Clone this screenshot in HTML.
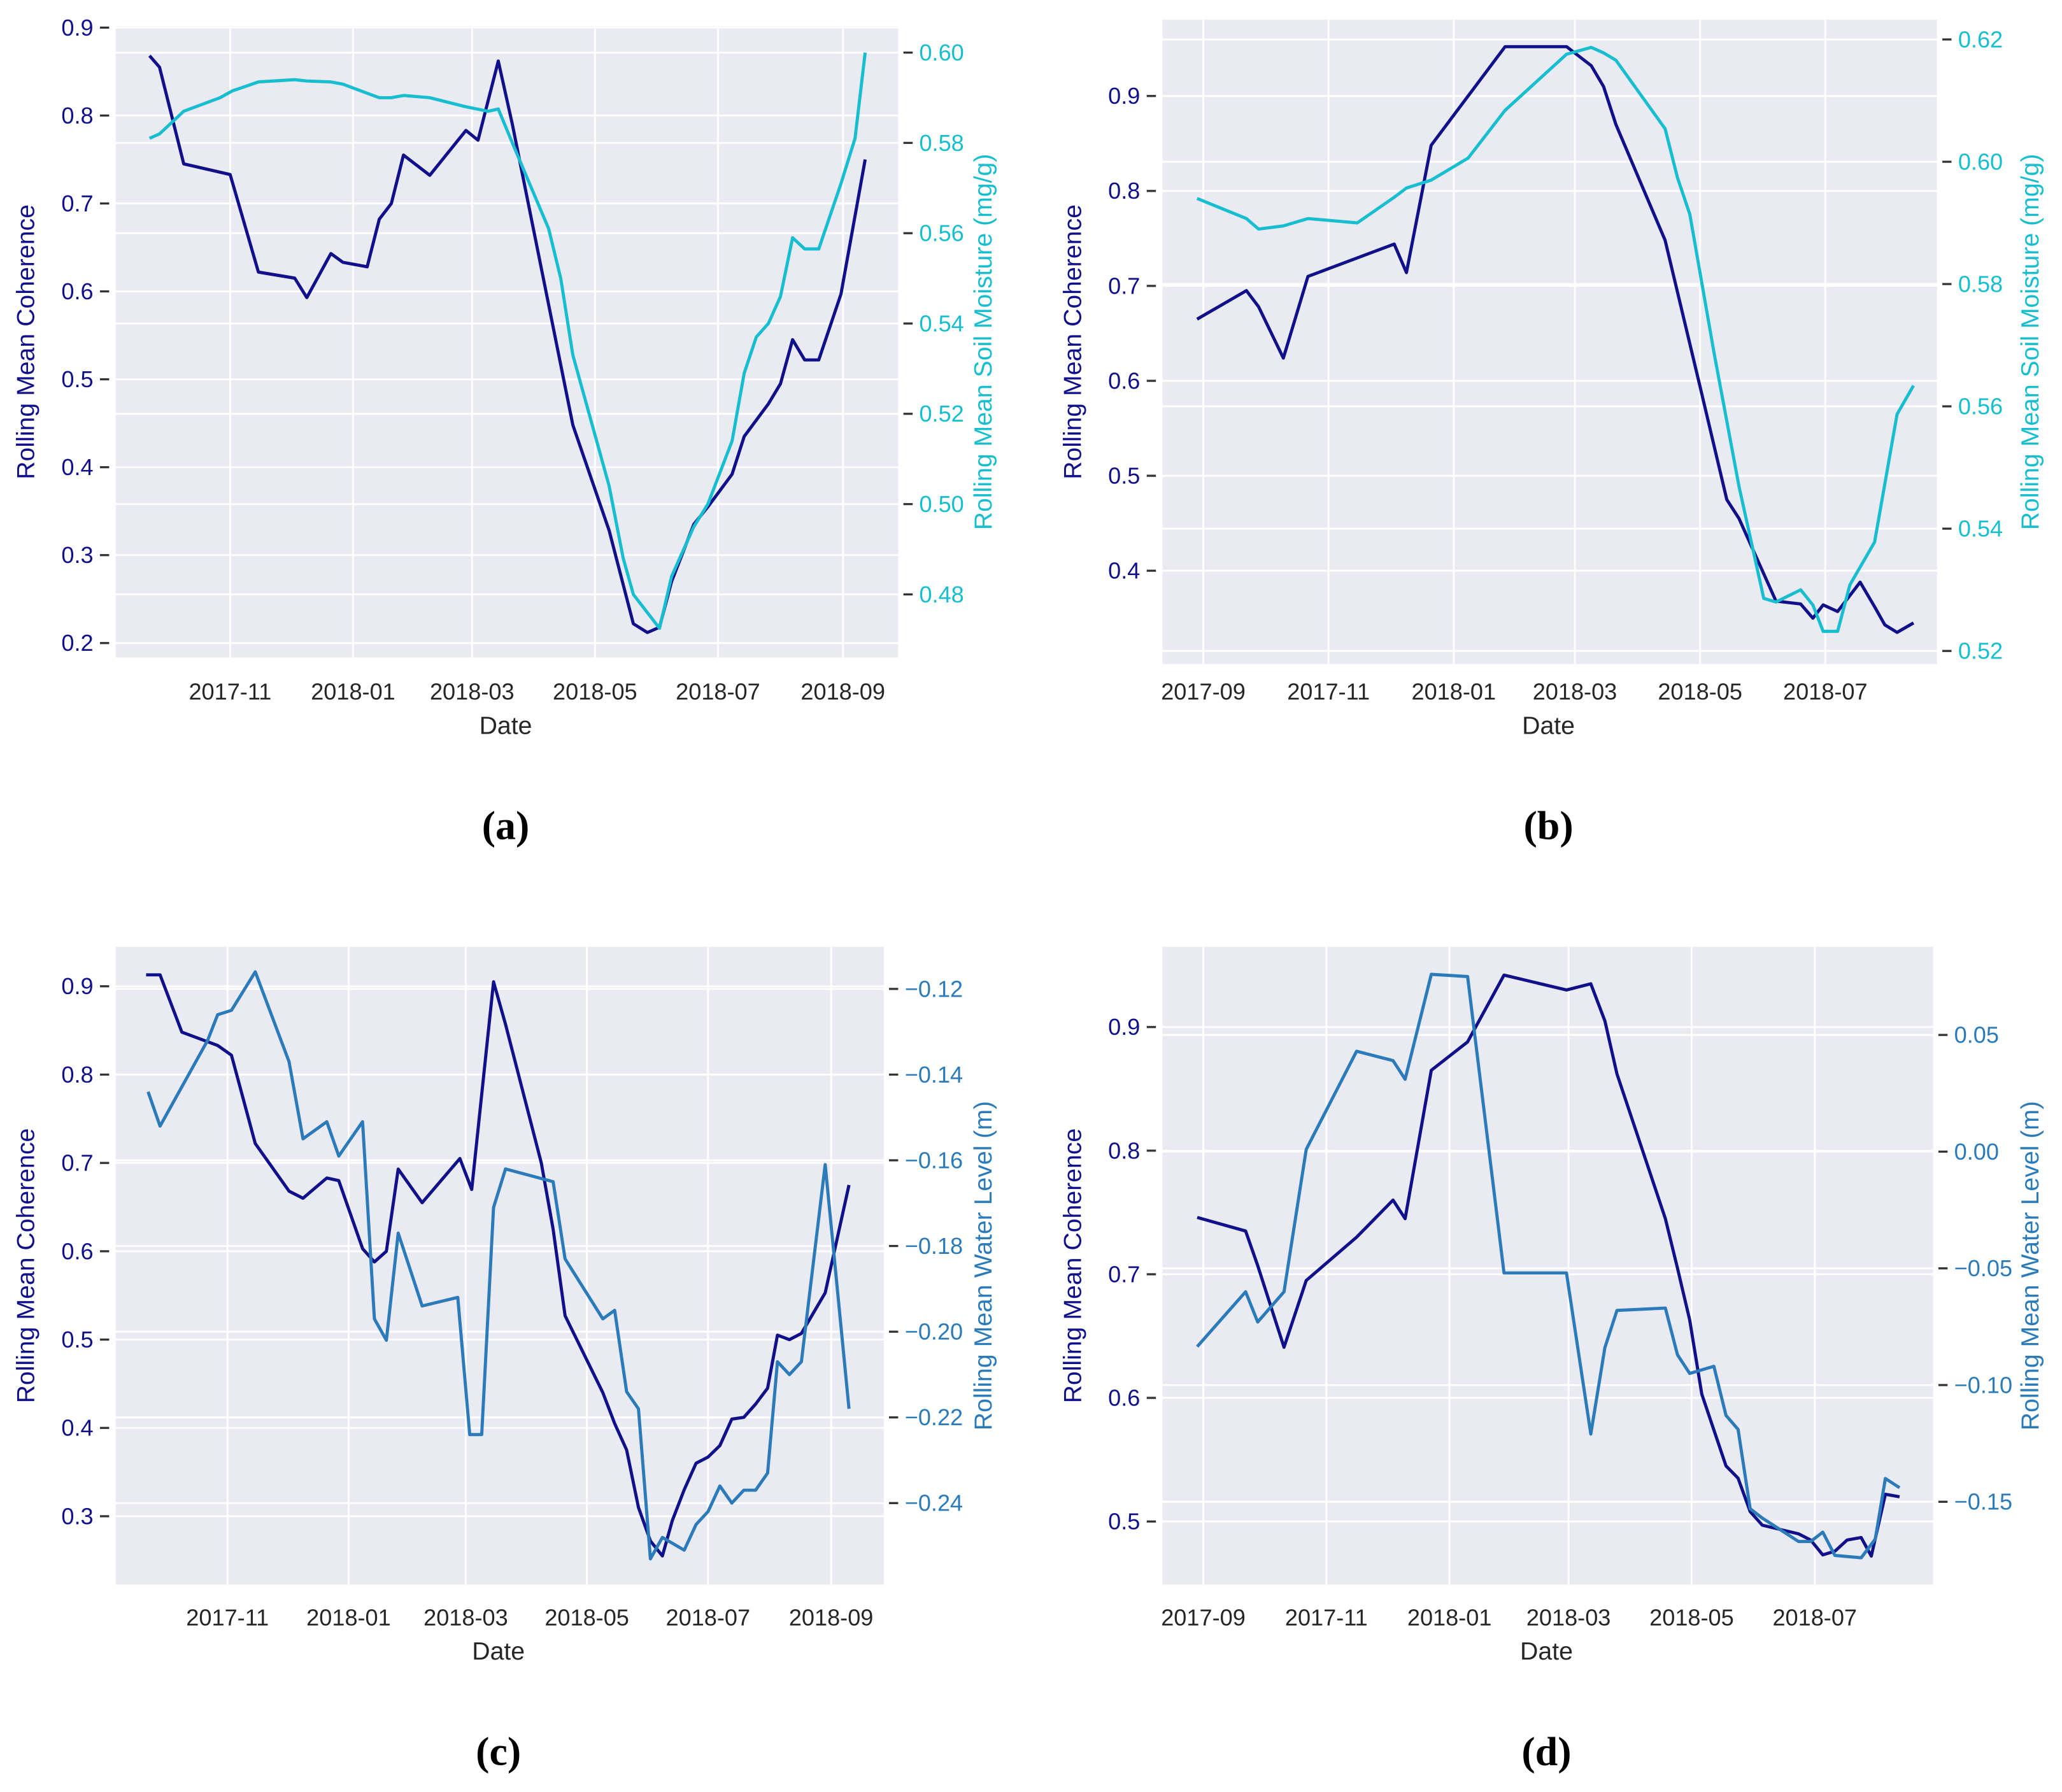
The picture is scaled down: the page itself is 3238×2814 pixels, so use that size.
<!DOCTYPE html>
<html><head><meta charset="utf-8"><style>
html,body{margin:0;padding:0;background:#fff}
svg{display:block}
text{font-family:"Liberation Sans",sans-serif}
</style></head><body>
<svg id="fig" xmlns="http://www.w3.org/2000/svg" width="3238" height="2814" viewBox="0 0 1568 1362.7"></svg>
<script>
// Day offsets are days since 2017-09-01
const tickDays = [0, 61, 122, 181, 242, 303, 365];
const tickLabels = ['2017-09','2017-11','2018-01','2018-03','2018-05','2018-07','2018-09'];

const aCohDays = [21,26,38,61,75,93,99,111,117,129,135,141,147,160,178,184,194,201,231,249,261,268,274,280,291,298,310,316,328,334,340,346,353,364,376];
const aCohVals = [.868,.855,.745,.733,.622,.615,.593,.643,.633,.628,.682,.700,.755,.732,.783,.772,.862,.790,.448,.328,.222,.212,.218,.270,.335,.355,.392,.435,.472,.495,.545,.522,.522,.597,.750];
const aSoilDays = [21,26,38,56,62,75,93,99,111,117,129,135,141,147,160,178,189,194,201,219,225,231,249,256,261,274,280,291,298,310,316,322,328,334,340,346,353,364,371,376];
const aSoilVals = [.581,.582,.587,.590,.5915,.5935,.594,.5937,.5935,.593,.591,.590,.590,.5905,.590,.588,.587,.5875,.580,.561,.550,.533,.504,.488,.480,.4725,.484,.495,.500,.514,.529,.537,.540,.546,.559,.5565,.5565,.571,.581,.600];

const bCohDays = [-3,21,27,39,51,93,99,111,129,147,177,189,195,201,225,243,255,261,279,291,297,302,309,320,327,332,338,346];
const bCohVals = [.665,.695,.678,.624,.71,.744,.714,.848,.9,.952,.952,.932,.91,.87,.748,.585,.475,.455,.368,.365,.35,.364,.357,.388,.362,.343,.335,.345];
const bSoilDays = [-3,21,27,39,51,75,93,99,111,129,147,177,189,195,201,225,231,237,249,261,273,279,291,297,302,309,315,327,338,346];
const bSoilVals = [.594,.5907,.589,.5895,.5907,.590,.5942,.5957,.597,.6006,.6084,.6176,.6187,.6178,.6166,.6054,.5974,.5914,.5684,.5469,.5286,.528,.530,.5275,.5232,.5232,.5308,.5378,.5587,.5634];

const cCohDays = [20,27,38,56,63,75,92,99,111,117,129,135,141,147,159,178,184,195,201,219,225,231,250,256,262,268,274,280,285,291,297,303,309,315,321,327,333,338,344,350,362,374];
const cCohVals = [.913,.913,.848,.833,.822,.722,.668,.660,.683,.680,.603,.588,.600,.693,.655,.705,.670,.905,.857,.700,.625,.527,.44,.405,.375,.31,.272,.255,.295,.33,.36,.367,.38,.41,.412,.427,.445,.505,.5,.507,.553,.675];
const cWaterDays = [21,27,51,56,63,75,92,99,111,117,129,135,141,147,159,177,183,189,195,201,225,231,250,256,262,268,274,280,291,297,303,309,315,321,327,333,338,344,350,362,374];
const cWaterVals = [-.144,-.152,-.132,-.126,-.125,-.116,-.137,-.155,-.151,-.159,-.151,-.197,-.202,-.177,-.194,-.192,-.224,-.224,-.171,-.162,-.165,-.183,-.197,-.195,-.214,-.218,-.253,-.248,-.251,-.245,-.242,-.236,-.240,-.237,-.237,-.233,-.207,-.210,-.207,-.161,-.218];

const dCohDays = [-3,21,27,40,51,76,94,100,113,131,149,180,192,199,205,229,235,241,247,259,265,271,277,295,301,307,313,319,326,331,338,345];
const dCohVals = [.746,.735,.707,.641,.695,.73,.76,.745,.865,.888,.942,.93,.935,.905,.862,.745,.705,.663,.603,.545,.535,.508,.497,.49,.485,.473,.476,.485,.487,.472,.522,.52];
const dWaterDays = [-3,21,27,40,51,76,94,100,113,131,149,180,192,199,205,229,235,241,253,259,265,271,277,295,301,307,313,326,333,338,345];
const dWaterVals = [-.0835,-.060,-.073,-.060,.001,.043,.039,.031,.076,.075,-.052,-.052,-.121,-.084,-.068,-.067,-.087,-.095,-.092,-.113,-.119,-.153,-.157,-.167,-.167,-.163,-.173,-.174,-.166,-.140,-.144];

const aLeftTicks=[.2,.3,.4,.5,.6,.7,.8,.9], aRightTicks=[.48,.50,.52,.54,.56,.58,.60];
const bLeftTicks=[.4,.5,.6,.7,.8,.9], bRightTicks=[.52,.54,.56,.58,.60,.62];
const cLeftTicks=[.3,.4,.5,.6,.7,.8,.9], cRightTicks=[-.24,-.22,-.20,-.18,-.16,-.14,-.12];
const dLeftTicks=[.5,.6,.7,.8,.9], dRightTicks=[-.15,-.10,-.05,0,.05];

const NS='http://www.w3.org/2000/svg';
const svg=document.getElementById('fig');
function mk(tag,attrs,parent){const e=document.createElementNS(NS,tag);for(const k in attrs)e.setAttribute(k,attrs[k]);(parent||svg).appendChild(e);return e;}
const NAVY='#10108a', CYAN='#17becf', BLUE='#2b7bba';

const panels=[
 {id:'a',box:[88,20,683,500],xref:[61,175,365,641],lref:[.9,21,.2,489],rref:[.60,40,.48,452],
  lt:aLeftTicks,rt:aRightTicks,rdec:2,ticks:[1,2,3,4,5,6],s1:[aCohDays,aCohVals],s2:[aSoilDays,aSoilVals],c2:CYAN,
  rlabel:'Rolling Mean Soil Moisture (mg/g)',tl:526,cap:628,rx:754},
 {id:'b',box:[884,15,1473,505],xref:[0,915,303,1388],lref:[.9,73,.4,434],rref:[.62,30,.52,495],
  lt:bLeftTicks,rt:bRightTicks,rdec:2,ticks:[0,1,2,3,4,5],s1:[bCohDays,bCohVals],s2:[bSoilDays,bSoilVals],c2:CYAN,
  rlabel:'Rolling Mean Soil Moisture (mg/g)',tl:526,cap:628,rx:1550},
 {id:'c',box:[88,720,672,1205],xref:[61,173,365,632],lref:[.9,750,.3,1153],rref:[-.12,752,-.24,1143],
  lt:cLeftTicks,rt:cRightTicks,rdec:2,ticks:[1,2,3,4,5,6],s1:[cCohDays,cCohVals],s2:[cWaterDays,cWaterVals],c2:BLUE,
  rlabel:'Rolling Mean Water Level (m)',tl:1230,cap:1332,rx:754},
 {id:'d',box:[884,720,1470,1205],xref:[0,915,303,1380],lref:[.9,781,.5,1157],rref:[.05,787,-.15,1142],
  lt:dLeftTicks,rt:dRightTicks,rdec:2,ticks:[0,1,2,3,4,5],s1:[dCohDays,dCohVals],s2:[dWaterDays,dWaterVals],c2:BLUE,
  rlabel:'Rolling Mean Water Level (m)',tl:1230,cap:1332,rx:1550}
];

function fmt(v,d){let s=Math.abs(v).toFixed(d);return (v<-1e-9?'\u2212':'')+s;}

panels.forEach(p=>{
 const [x0,y0,x1,y1]=p.box;
 const xs=d=>p.xref[1]+(d-p.xref[0])*(p.xref[3]-p.xref[1])/(p.xref[2]-p.xref[0]);
 const yl=v=>p.lref[1]+(v-p.lref[0])*(p.lref[3]-p.lref[1])/(p.lref[2]-p.lref[0]);
 const yr=v=>p.rref[1]+(v-p.rref[0])*(p.rref[3]-p.rref[1])/(p.rref[2]-p.rref[0]);
 const g=mk('g',{});
 
 
 const bg=mk('rect',{x:x0,y:y0,width:x1-x0,height:y1-y0,fill:'#eaeaf2'},g);
 
 
 p.ticks.forEach(i=>{
  const x=xs(tickDays[i]);
  const gl=mk('line',{x1:x,x2:x,y1:y0,y2:y1,stroke:'#fff','stroke-width':1.4},g);
  
  
  const t=mk('text',{x:x,y:p.tl+6,'font-size':17.5,fill:'#262626','text-anchor':'middle'},g);
  t.textContent=tickLabels[i];
  
  
 });
 p.lt.forEach(v=>{
  const y=yl(v);
  const gl=mk('line',{x1:x0,x2:x1,y1:y,y2:y,stroke:'#fff','stroke-width':1.4},g);
  
  
  mk('line',{x1:x0-12,x2:x0-5,y1:y,y2:y,stroke:'#333','stroke-width':1.6},g);
  const t=mk('text',{x:x0-17,y:y+6,'font-size':17.5,fill:NAVY,'text-anchor':'end'},g);
  t.textContent=v.toFixed(1);
  
  
 });
 p.rt.forEach(v=>{
  const y=yr(v);
  const gl=mk('line',{x1:x0,x2:x1,y1:y,y2:y,stroke:'#fff','stroke-width':1.4},g);
  
  
  mk('line',{x1:x1+4,x2:x1+11,y1:y,y2:y,stroke:'#333','stroke-width':1.6},g);
  const t=mk('text',{x:x1+16,y:y+6,'font-size':17.5,fill:p.c2,'text-anchor':'start'},g);
  t.textContent=fmt(v,p.rdec);
  
  
 });
 const l1=mk('polyline',{points:p.s1[0].map((d,i)=>xs(d).toFixed(1)+','+yl(p.s1[1][i]).toFixed(1)).join(' '),fill:'none',stroke:NAVY,'stroke-width':2.4,'stroke-linejoin':'round'},g);
 
 
 const l2=mk('polyline',{points:p.s2[0].map((d,i)=>xs(d).toFixed(1)+','+yr(p.s2[1][i]).toFixed(1)).join(' '),fill:'none',stroke:p.c2,'stroke-width':2.4,'stroke-linejoin':'round'},g);
 
 
 const cy=(y0+y1)/2;
 const lx=x0-62;
 const ll=mk('text',{x:lx,y:cy,'font-size':19,fill:NAVY,'text-anchor':'middle',transform:`rotate(-90 ${lx} ${cy})`},g);
 ll.textContent='Rolling Mean Coherence';
 
 
 const rx=p.rx;
 const rl=mk('text',{x:rx,y:cy,'font-size':19,fill:p.c2,'text-anchor':'middle',transform:`rotate(-90 ${rx} ${cy})`},g);
 rl.textContent=p.rlabel;
 
 
 const xl=mk('text',{x:(x0+x1)/2-1,y:p.tl+32,'font-size':19,fill:'#262626','text-anchor':'middle'},g);
 xl.textContent='Date';
 
 
 const cap=mk('text',{x:(x0+x1)/2-1,y:p.cap+10,fill:'#000','text-anchor':'middle',style:'font-family:"Liberation Serif",serif;font-size:31px;font-weight:bold'},g);
 cap.textContent='('+p.id+')';
 
 
});
</script>
</body></html>
